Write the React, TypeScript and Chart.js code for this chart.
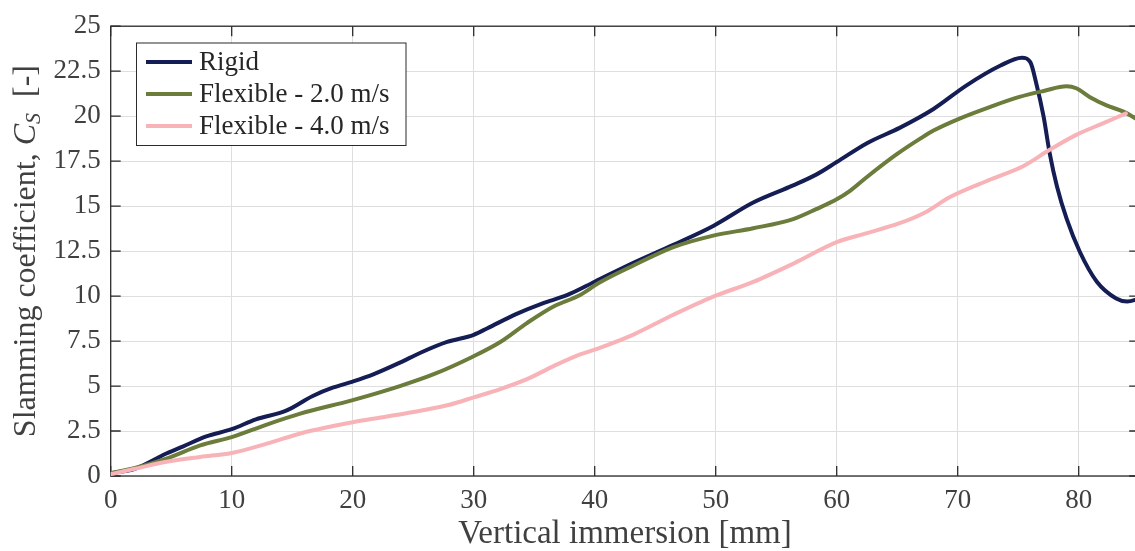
import React, { useEffect, useRef } from "react";
import { Chart, registerables } from "chart.js";

Chart.register(...registerables);

// ---------------- data ----------------
const seriesLabels = ["Rigid", "Flexible - 2.0 m/s", "Flexible - 4.0 m/s"];

const rigidX = [0, 2, 4.6, 6, 7.9, 10, 12, 14.5, 16.7, 18.4, 20, 21.7, 23.9, 25.6, 27.8, 30, 31.1, 33.5, 35.7, 37.7, 40, 43.2, 46.5, 49.8, 53.1, 56.4, 58.3, 60, 62.5, 65.2, 68, 70.7, 73.5, 75.3, 76, 76.5, 77.1, 77.6, 78.2, 79, 80.1, 81.5, 83.1, 84, 85];
const rigidY = [0.15, 0.4, 1.25, 1.65, 2.2, 2.6, 3.15, 3.63, 4.45, 4.92, 5.25, 5.65, 6.3, 6.85, 7.45, 7.85, 8.2, 9.0, 9.6, 10.05, 10.8, 11.85, 12.85, 13.9, 15.2, 16.15, 16.75, 17.45, 18.5, 19.35, 20.4, 21.7, 22.8, 23.25, 23.0, 21.8, 19.97, 17.95, 16.1, 14.3, 12.45, 10.8, 9.87, 9.7, 9.85];

const flex2X = [0, 2, 4.6, 7.4, 10, 12.9, 15.6, 20, 23.9, 26.7, 30, 32.2, 34.4, 36.6, 38.8, 40.4, 43.2, 46.5, 49.8, 53.1, 56.4, 58.3, 60, 61.1, 62.5, 65, 66.9, 68, 70.2, 72.7, 75.1, 77.1, 79, 79.8, 80.9, 82.3, 83.7, 85];
const flex2Y = [0.15, 0.45, 0.97, 1.7, 2.16, 2.86, 3.45, 4.22, 5.0, 5.66, 6.66, 7.45, 8.5, 9.42, 10.06, 10.75, 11.7, 12.72, 13.36, 13.77, 14.28, 14.83, 15.38, 15.85, 16.62, 17.9, 18.75, 19.2, 19.88, 20.52, 21.07, 21.4, 21.66, 21.55, 21.07, 20.6, 20.25, 19.75];

const flex4X = [0, 2, 4.6, 7.4, 10, 12.9, 15.6, 17.9, 20, 22.5, 25.6, 28, 30, 32.2, 34.4, 36.6, 38.8, 40.2, 43.2, 46.5, 49.8, 53.1, 56.4, 60, 62.5, 65.2, 67.3, 69.4, 72.7, 75.4, 77.6, 79.8, 82, 83.9];
const flex4Y = [0.1, 0.4, 0.79, 1.06, 1.28, 1.8, 2.35, 2.71, 2.99, 3.27, 3.63, 3.96, 4.37, 4.83, 5.38, 6.11, 6.76, 7.07, 7.86, 8.96, 9.97, 10.79, 11.8, 13.0, 13.5, 14.05, 14.65, 15.52, 16.48, 17.22, 18.13, 18.96, 19.6, 20.15];

const xTicks = [0, 10, 20, 30, 40, 50, 60, 70, 80];
const yTicks = [0, 2.5, 5, 7.5, 10, 12.5, 15, 17.5, 20, 22.5, 25];

const xTitle = "Vertical immersion [mm]";
const yTitleMain = "Slamming coefficient, ";
const yTitleSymbol = "C";
const yTitleSub = "S";
const yTitleUnit = "  [-]";

// ---------------- styles ----------------
const FONT = "'Liberation Serif', 'DejaVu Serif', serif";
const TEXT = "#404040";
const AXIS = "#2b2b2b";
const GRID = "#dedede";
const COLORS = ["#151d55", "#6b7c3b", "#f8b3b8"];

const CANVAS_W = 1145;
const CANVAS_H = 551;

const framePlugin = {
  id: "frame",
  beforeDatasetsDraw(chart: any) {
    const { ctx, chartArea: a, scales } = chart;
    ctx.save();
    ctx.strokeStyle = AXIS;
    ctx.lineWidth = 1.3;
    ctx.strokeRect(a.left, a.top, a.right - a.left, a.bottom - a.top);
    const tl = 10;
    ctx.beginPath();
    for (const v of xTicks) {
      const px = scales.x.getPixelForValue(v);
      ctx.moveTo(px, a.bottom);
      ctx.lineTo(px, a.bottom - tl);
      ctx.moveTo(px, a.top);
      ctx.lineTo(px, a.top + tl);
    }
    for (const v of yTicks) {
      const py = scales.y.getPixelForValue(v);
      ctx.moveTo(a.left, py);
      ctx.lineTo(a.left + tl, py);
      ctx.moveTo(a.right, py);
      ctx.lineTo(a.right - tl, py);
    }
    ctx.stroke();
    ctx.restore();
  },
};

const legendPlugin = {
  id: "boxLegend",
  afterDraw(chart: any) {
    const { ctx } = chart;
    const ds = chart.data.datasets;
    const bx = 136.5, by = 43, bw = 269.5, bh = 102.5;
    ctx.save();
    ctx.fillStyle = "#ffffff";
    ctx.fillRect(bx, by, bw, bh);
    ctx.strokeStyle = AXIS;
    ctx.lineWidth = 1;
    ctx.strokeRect(bx, by, bw, bh);
    ctx.font = `27px ${FONT}`;
    ctx.textBaseline = "middle";
    ctx.textAlign = "left";
    ds.forEach((d: any, i: number) => {
      const y = 62 + i * 32;
      ctx.strokeStyle = d.borderColor;
      ctx.lineWidth = 4;
      ctx.beginPath();
      ctx.moveTo(146, y);
      ctx.lineTo(192, y);
      ctx.stroke();
      ctx.fillStyle = "#262626";
      ctx.fillText(d.label, 199, y + 1);
    });
    ctx.restore();
  },
};

const yTitlePlugin = {
  id: "yTitle",
  afterDraw(chart: any) {
    const { ctx, chartArea: a } = chart;
    const size = 32;
    const parts = [
      { t: yTitleMain, font: `${size}px ${FONT}`, dy: 0 },
      { t: yTitleSymbol, font: `italic ${size}px ${FONT}`, dy: 0 },
      { t: yTitleSub, font: `italic ${Math.round(size * 0.7)}px ${FONT}`, dy: 5 },
      { t: yTitleUnit, font: `${size}px ${FONT}`, dy: 0 },
    ];
    ctx.save();
    let total = 0;
    for (const p of parts) {
      ctx.font = p.font;
      total += ctx.measureText(p.t).width;
    }
    const cy = (a.top + a.bottom) / 2;
    ctx.translate(35, cy + total / 2);
    ctx.rotate(-Math.PI / 2);
    ctx.fillStyle = TEXT;
    ctx.textBaseline = "alphabetic";
    ctx.textAlign = "left";
    let x = 0;
    for (const p of parts) {
      ctx.font = p.font;
      ctx.fillText(p.t, x, p.dy);
      x += ctx.measureText(p.t).width;
    }
    ctx.restore();
  },
};

export default function App() {
  const ref = useRef<HTMLCanvasElement | null>(null);

  useEffect(() => {
    if (!ref.current) return;
    const mk = (xs: number[], ys: number[]) => xs.map((x, i) => ({ x, y: ys[i] }));
    const chart = new Chart(ref.current, {
      type: "line",
      data: {
        datasets: [
          { label: seriesLabels[0], data: mk(rigidX, rigidY), borderColor: COLORS[0], order: 3 },
          { label: seriesLabels[1], data: mk(flex2X, flex2Y), borderColor: COLORS[1], order: 2 },
          { label: seriesLabels[2], data: mk(flex4X, flex4Y), borderColor: COLORS[2], order: 1 },
        ].map((d) => ({
          ...d,
          borderWidth: 4,
          pointRadius: 0,
          fill: false,
          cubicInterpolationMode: "monotone" as const,
          borderCapStyle: "round" as const,
          borderJoinStyle: "round" as const,
        })),
      },
      options: {
        animation: false,
        responsive: false,
        maintainAspectRatio: false,
        devicePixelRatio: 1,
        layout: { padding: { left: 0, right: CANVAS_W - 1139.2, top: 22, bottom: 0 } },
        plugins: { legend: { display: false }, tooltip: { enabled: false } },
        scales: {
          x: {
            type: "linear",
            min: 0,
            max: 85,
            afterBuildTicks: (s: any) => {
              s.ticks = xTicks.map((v) => ({ value: v }));
            },
            afterFit: (s: any) => {
              s.height = 75;
            },
            grid: { color: GRID, lineWidth: 1, drawTicks: false },
            border: { display: false },
            ticks: {
              font: { family: FONT, size: 27, lineHeight: 1.2 },
              color: TEXT,
              padding: 9,
              maxRotation: 0,
              autoSkip: false,
            },
            title: {
              display: true,
              text: xTitle,
              font: { family: FONT, size: 33, lineHeight: 1 },
              color: TEXT,
              padding: { top: 0, bottom: 0 },
            },
          },
          y: {
            type: "linear",
            min: 0,
            max: 25,
            afterBuildTicks: (s: any) => {
              s.ticks = yTicks.map((v) => ({ value: v }));
            },
            afterFit: (s: any) => {
              s.width = 110.7;
            },
            grid: { color: GRID, lineWidth: 1, drawTicks: false },
            border: { display: false },
            ticks: {
              font: { family: FONT, size: 27, lineHeight: 1.2 },
              color: TEXT,
              padding: 10,
              autoSkip: false,
            },
          },
        },
      },
      plugins: [framePlugin, legendPlugin, yTitlePlugin],
    });
    return () => chart.destroy();
  }, []);

  return (
    <div
      style={{
        position: "fixed",
        left: 0,
        top: 0,
        width: 1135,
        height: 551,
        overflow: "hidden",
        background: "#ffffff",
      }}
    >
      <canvas
        ref={ref}
        width={CANVAS_W}
        height={CANVAS_H}
        style={{ display: "block", width: CANVAS_W, height: CANVAS_H }}
      />
    </div>
  );
}
